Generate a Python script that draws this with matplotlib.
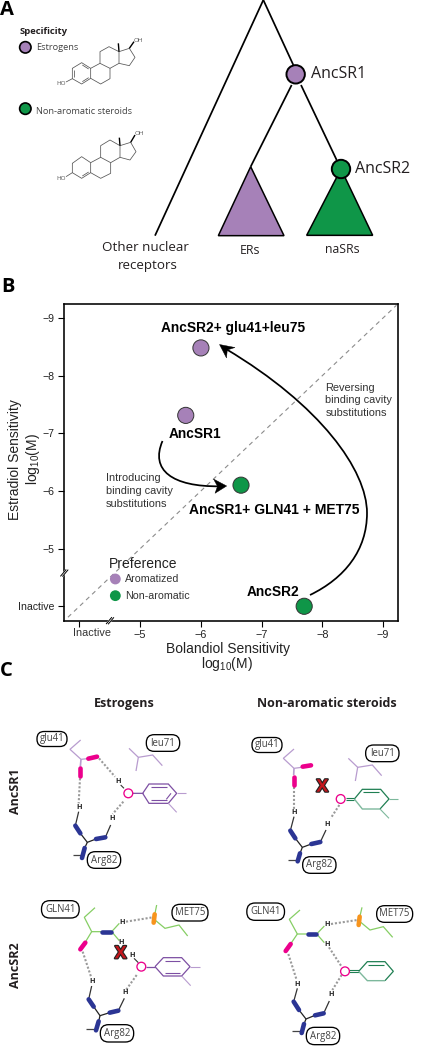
import matplotlib
matplotlib.use("Agg")
import matplotlib.pyplot as plt
import matplotlib.patheffects as pe
from matplotlib.patches import Circle, Polygon, FancyBboxPatch, PathPatch
from matplotlib.path import Path

W, H = 431, 1050
PURPLE = "#A681B8"
GREEN = "#0F9648"
MAG = "#EC008C"
BLUE = "#2B3594"
ORANGE = "#F7941D"
LPURP = "#B89CCF"
RPURP = "#7D4FA3"
LGREEN = "#86CE64"
DGREEN = "#1F7F52"
MGREEN = "#7DB89C"
DOT = "#9A9A9A"
MYR = "Open Sans"
HEL = "Liberation Sans"

plt.rcParams["mathtext.fontset"] = "custom"
plt.rcParams["mathtext.rm"] = HEL
plt.rcParams["mathtext.default"] = "regular"

# Panel B values
bolandiol = [-6.00, -5.75, -6.66, -7.70]
estradiol = [-8.48, -7.31, -6.10, -4.00]
mutant_colors = [PURPLE, PURPLE, GREEN, GREEN]
x_ticks = [-4, -5, -6, -7, -8, -9]
x_tick_labels = ["", "\u22125", "\u22126", "\u22127", "\u22128", "\u22129"]
y_ticks = [-4, -5, -6, -7, -8, -9]
y_tick_labels = ["Inactive", "\u22125", "\u22126", "\u22127", "\u22128", "\u22129"]
legend_names = ["Aromatized", "Non-aromatic"]
legend_colors = [PURPLE, GREEN]

fig = plt.figure(figsize=(W / 100, H / 100), dpi=100)
fig.patch.set_facecolor("white")

# ---------- Panel B axes ----------
L, R, T, B = 64.3, 398.3, 303.5, 620.7
ax = fig.add_axes([L / W, 1 - B / H, (R - L) / W, (B - T) / H], zorder=1)
ax.set_xlim(-3.75, -9.25)
ax.set_ylim(-3.75, -9.25)
ax.plot([-3.81, -9.22], [-3.81, -9.22], color="#8c8c8c", lw=0.8, ls=(0, (4, 3.5)), zorder=1)
ax.scatter(bolandiol, estradiol, s=135, c=mutant_colors, edgecolors="#333333", linewidths=0.7, zorder=3)
ax.set_xticks(x_ticks, x_tick_labels, family=HEL, fontsize=7.8, color="#222222")
ax.set_yticks(y_ticks, y_tick_labels, family=HEL, fontsize=7.6, color="#222222")
ax.tick_params(length=4.3, width=0.8, pad=2.5)
for s in ax.spines.values():
    s.set_linewidth(1.15)

# ---------- Overlay in pixel units ----------
ov = fig.add_axes([0, 0, 1, 1], zorder=2)
ov.set_xlim(0, W)
ov.set_ylim(H, 0)
ov.axis("off")
ov.patch.set_alpha(0)


def line(pts, ox, oy, color="k", lw=0.8, ls="-", cap="butt", z=3):
    xs = [ox + p[0] / 3 for p in pts]
    ys = [oy + p[1] / 3 for p in pts]
    ov.plot(xs, ys, color=color, lw=lw, ls=ls, solid_capstyle=cap, dash_capstyle="butt",
            solid_joinstyle="miter", zorder=z)


def txt(x, y, s, ox=0, oy=0, size=8, family=MYR, weight="normal", ha="center", color="#231F20", **kw):
    ov.text(ox + x / 3, oy + y / 3, s, fontsize=size, family=family, fontweight=weight,
            ha=ha, va="center", color=color, zorder=6, **kw)


def circle(x, y, r, ox, oy, fc, ec="k", lw=1.0, z=5):
    ov.add_patch(Circle((ox + x / 3, oy + y / 3), r, fc=fc, ec=ec, lw=lw, zorder=z))


# ---------- Panel A ----------
for pts in ([(790, 0), (465, 707)], [(790, 0), (880, 195)], [(875, 255), (752, 500)], [(903, 255), (1010, 480)]):
    line(pts, 0, 0, lw=1.25)
ov.add_patch(Polygon([(752 / 3, 500 / 3), (655 / 3, 707 / 3), (852 / 3, 707 / 3)], closed=True,
                     fc=PURPLE, ec="k", lw=1.1, zorder=3))
ov.add_patch(Polygon([(1023 / 3, 507 / 3), (920 / 3, 706 / 3), (1118 / 3, 706 / 3)], closed=True,
                     fc=GREEN, ec="k", lw=1.1, zorder=3))
circle(887, 223, 9.2, 0, 0, PURPLE, lw=1.4)
circle(1023, 507, 9.2, 0, 0, GREEN, lw=1.4)
txt(934, 222, "AncSR1", size=11.5, ha="left")
txt(1066, 507, "AncSR2", size=11.5, ha="left")
txt(437, 743, "Other nuclear", size=9.6)
txt(442, 796, "receptors", size=9.6)
txt(749, 751, "ERs", size=8.8)
txt(1028, 748, "naSRs", size=8.8)
txt(20, 30, "A", size=14.5, weight="bold", color="k")
txt(60, 94, "Specificity", size=6.8, weight="bold", ha="left")
txt(108, 143, "Estrogens", size=6.7, ha="left", color="#444444")
txt(108, 333, "Non-aromatic steroids", size=6.7, ha="left", color="#444444")
circle(76, 142, 5.7, 0, 0, PURPLE, lw=1.2)
circle(76, 326, 5.7, 0, 0, GREEN, lw=1.2)

MOL = "#555555"
ring_a1 = [(217, 205), (245, 188), (272, 205), (272, 235), (245, 252), (217, 236), (217, 205)]
ring_b1 = [(272, 205), (300, 190), (330, 205), (330, 236), (302, 252), (272, 235)]
ring_c1 = [(300, 190), (300, 155), (327, 140), (357, 155), (357, 190), (330, 205)]
ring_d1 = [(357, 155), (388, 145), (405, 172), (388, 197), (357, 190)]
for r in (ring_a1, ring_b1, ring_c1, ring_d1):
    line(r, 0, 0, color=MOL, lw=0.55)
line([(198, 246), (217, 236)], 0, 0, color=MOL, lw=0.55)
for pts in ([(247, 195), (266, 207)], [(247, 245), (266, 233)], [(223, 210), (223, 232)]):
    line(pts, 0, 0, color=MOL, lw=0.55)
line([(388, 145), (402, 125)], 0, 0, color="k", lw=1.0)
line([(357, 155), (355, 130)], 0, 0, color="k", lw=1.0)
txt(182, 251, "HO", size=4.6, color="#555555")
txt(415, 120, "OH", size=4.6, color="#555555")

ring_a2 = [(217, 490), (245, 470), (272, 488), (272, 518), (245, 535), (217, 518), (217, 490)]
ring_b2 = [(272, 488), (302, 472), (332, 488), (332, 520), (302, 535), (272, 518)]
ring_c2 = [(302, 472), (302, 437), (330, 420), (360, 437), (360, 472), (332, 488)]
ring_d2 = [(360, 437), (392, 427), (408, 455), (390, 480), (360, 472)]
for r in (ring_a2, ring_b2, ring_c2, ring_d2):
    line(r, 0, 0, color=MOL, lw=0.55)
line([(198, 530), (217, 518)], 0, 0, color=MOL, lw=0.55)
line([(247, 528), (266, 516)], 0, 0, color=MOL, lw=0.55)
line([(392, 427), (405, 405)], 0, 0, color="k", lw=1.0)
line([(360, 437), (358, 413)], 0, 0, color="k", lw=1.0)
txt(182, 537, "HO", size=4.6, color="#555555")
txt(418, 401, "OH", size=4.6, color="#555555")

# ---------- Panel B annotations ----------
oy = 280
txt(25, 22, "B", 0, oy, size=14.5, weight="bold", color="k")
txt(698, 145, "AncSR2+ glu41+leu75", 0, oy, size=9.9, family=HEL, weight="bold", color="k")
txt(586, 461, "AncSR1", 0, oy, size=9.9, family=HEL, weight="bold", color="k")
txt(822, 689, "AncSR1+ GLN41 + MET75", 0, oy, size=10, family=HEL, weight="bold", color="k")
txt(818, 937, "AncSR2", 0, oy, size=9.9, family=HEL, weight="bold", color="k")
for yy, s in zip((323, 361, 399), ("Reversing", "binding cavity", "substitutions")):
    txt(976, yy, s, 0, oy, size=7.9, family=HEL, ha="left", color="#333333")
for yy, s in zip((595, 633, 671), ("Introducing", "binding cavity", "substitutions")):
    txt(317, yy, s, 0, oy, size=7.9, family=HEL, ha="left", color="#333333")
txt(327, 851, "Preference", 0, oy, size=10, family=HEL, ha="left", color="#222222")
for yy, name, col in zip((897, 947), legend_names, legend_colors):
    circle(346, yy, 5.4, 0, oy, col, ec="none", lw=0)
    txt(374, yy + 1, name, 0, oy, size=7.7, family=HEL, ha="left", color="#333333")
txt(45, 540, "Estradiol Sensitivity", 0, oy, size=10, family=HEL, rotation=90, color="#222222")
txt(98, 537, r"log$_{10}$(M)", 0, oy, size=10, family=HEL, rotation=90, color="#222222")
txt(683, 1106, "Bolandiol Sensitivity", 0, oy, size=10, family=HEL, color="#222222")
txt(682, 1152, r"log$_{10}$(M)", 0, oy, size=10, family=HEL, color="#222222")
txt(275, 1059, "Inactive", 0, oy, size=7.8, family=HEL, color="#333333")

# axis breaks
for cx, cy in ((110, B), (L, 573)):
    ov.plot([cx - 3, cx + 3], [cy + 3.6, cy - 3.6], color="white", lw=2.2, zorder=4)
    ov.plot([cx - 3.6, cx + 1.6], [cy + 3, cy - 3.2], color="k", lw=0.7, zorder=5)
    ov.plot([cx - 1.6, cx + 3.6], [cy + 3.2, cy - 3], color="k", lw=0.7, zorder=5)

# curved arrows
p1 = Path([(162.5, 441), (150, 470), (172, 487), (220, 486.3)],
          [Path.MOVETO, Path.CURVE4, Path.CURVE4, Path.CURVE4])
ov.add_patch(PathPatch(p1, fc="none", ec="k", lw=1.25, zorder=5))
ov.add_patch(Polygon([(226.7, 486), (213.5, 479), (217.5, 486.3), (215, 493.3)], closed=True,
                     fc="k", ec="k", lw=0.3, zorder=5))
p2 = Path([(310, 595), (345, 578), (367, 550), (367, 513),
           (367, 470), (320, 405), (226, 349)],
          [Path.MOVETO, Path.CURVE4, Path.CURVE4, Path.CURVE4, Path.CURVE4, Path.CURVE4, Path.CURVE4])
ov.add_patch(PathPatch(p2, fc="none", ec="k", lw=1.25, zorder=5))
ov.add_patch(Polygon([(219.5, 344.5), (235, 347.5), (227.3, 350), (226.5, 358)], closed=True,
                     fc="k", ec="k", lw=0.3, zorder=5))


# ---------- Panel C ----------
def pill(x, y, w, h, label, ox, oy, size=6.9):
    x0 = ox + (x - w / 2) / 3
    y0 = oy + (y - h / 2) / 3
    ov.add_patch(FancyBboxPatch((x0, y0), w / 3, h / 3, boxstyle=f"round,pad=0,rounding_size={h / 6 * 0.95}",
                                fc="white", ec="k", lw=0.95, zorder=5))
    txt(x, y, label, ox, oy, size=size, color="#444444")


def thick(a, b, ox, oy, color):
    line([a, b], ox, oy, color=color, lw=3.3, cap="round", z=4)


def dots(a, b, ox, oy):
    line([a, b], ox, oy, color=DOT, lw=1.5, ls=(0, (1, 0.9)), z=2)


def hh(x, y, ox, oy):
    txt(x, y, "H", ox, oy, size=5.2, weight="bold", color="#222222")


def redx(x, y, ox, oy):
    ov.text(ox + x / 3, oy + y / 3, "X", fontsize=12.5, family=MYR, fontweight="bold", ha="center",
            va="center", color="#C4161C", zorder=7,
            path_effects=[pe.withStroke(linewidth=1.6, foreground="#222222")])


def ocircle(x, y, ox, oy):
    circle(x, y, 4.4, ox, oy, "white", ec=MAG, lw=0.95, z=5)


def arg(pts, ox, oy):
    """Arginine side chain: h1 top, thick1, node, thick2, h2, thick3, stub."""
    line([pts["h1"], pts["t1a"]], ox, oy, color="#333333", lw=0.9)
    line([pts["t1b"], pts["n"], pts["t2a"]], ox, oy, color="#222222", lw=0.9)
    line([pts["t2b"], pts["h2"]], ox, oy, color="#333333", lw=0.9)
    line([pts["n"], pts["t3a"]], ox, oy, color="#222222", lw=0.9)
    line(pts["stub"], ox, oy, color="#444444", lw=0.9)
    thick(pts["t1a"], pts["t1b"], ox, oy, BLUE)
    thick(pts["t2a"], pts["t2b"], ox, oy, BLUE)
    thick(pts["t3a"], pts["t3b"], ox, oy, BLUE)


# top-left
ox, oy = 0, 660
txt(20, 32, "C", ox, oy, size=14.5, weight="bold", color="k")
txt(373, 131, "Estrogens", ox, oy, size=9, weight="bold")
txt(320 + 660, 131, "Non-aromatic steroids", ox, oy, size=9, weight="bold")
txt(48, 395, "AncSR1", ox, oy, size=9, weight="bold", rotation=90)
line([(242, 240), (210, 268), (243, 298), (262, 296)], ox, oy, color=LPURP, lw=0.9)
line([(243, 298), (241, 320)], ox, oy, color=LPURP, lw=1.2)
thick((265, 296), (291, 290), ox, oy, MAG)
thick((241, 324), (241, 348), ox, oy, MAG)
dots((297, 295), (345, 350), ox, oy)
dots((240, 355), (236, 430), ox, oy)
dots((370, 425), (338, 462), ox, oy)
hh(354, 365, ox, oy); hh(236, 443, ox, oy); hh(335, 477, ox, oy)
line([(362, 375), (372, 385)], ox, oy, color="#333333", lw=0.8)
line([(398, 400), (428, 400), (447, 372), (505, 372), (530, 400), (505, 430), (447, 430), (428, 400)], ox, oy, color=RPURP, lw=0.9)
line([(452, 381), (500, 381)], ox, oy, color=RPURP, lw=0.8)
line([(452, 421), (500, 421)], ox, oy, color=RPURP, lw=0.8)
line([(513, 400), (499, 418)], ox, oy, color=RPURP, lw=0.8)
line([(530, 400), (558, 400)], ox, oy, color=LPURP, lw=0.8)
line([(505, 430), (530, 457)], ox, oy, color=LPURP, lw=0.8)
ocircle(385, 400, ox, oy)
line([(387, 265), (415, 292), (408, 333)], ox, oy, color=LPURP, lw=0.9)
line([(415, 292), (458, 285), (487, 317)], ox, oy, color=LPURP, lw=0.9)
arg(dict(h1=(236, 455), t1a=(226, 497), t1b=(241, 520), n=(262, 547), t2a=(288, 537), t2b=(316, 532),
         h2=(332, 495), t3a=(254, 564), t3b=(246, 594), stub=[(218, 585), (245, 585)]), ox, oy)
pill(156, 237, 90, 45, "glu41", ox, oy)
pill(489, 249, 100, 50, "leu71", ox, oy)

# top-right
ox, oy = 220, 660
line([(222, 267), (190, 295), (222, 325), (245, 322)], ox, oy, color=LPURP, lw=0.9)
line([(222, 325), (221, 345)], ox, oy, color=LPURP, lw=1.2)
thick((248, 320), (273, 316), ox, oy, MAG)
thick((221, 350), (221, 375), ox, oy, MAG)
dots((221, 380), (221, 448), ox, oy)
dots((358, 435), (332, 475), ox, oy)
hh(222, 459, ox, oy); hh(321, 492, ox, oy)
redx(307, 380, ox, oy)
line([(378, 413), (403, 413)], ox, oy, color=DGREEN, lw=0.8)
line([(378, 421), (403, 421)], ox, oy, color=DGREEN, lw=0.8)
line([(403, 417), (427, 388), (482, 388), (507, 417), (480, 447)], ox, oy, color=DGREEN, lw=0.9)
line([(403, 417), (427, 447), (480, 447)], ox, oy, color=MGREEN, lw=1.0)
line([(430, 397), (478, 397)], ox, oy, color=DGREEN, lw=0.8)
line([(507, 417), (535, 417)], ox, oy, color=MGREEN, lw=0.8)
line([(480, 447), (507, 475)], ox, oy, color=MGREEN, lw=0.8)
ocircle(362, 417, ox, oy)
line([(385, 295), (413, 322), (406, 363)], ox, oy, color=LPURP, lw=0.9)
line([(413, 322), (457, 315), (485, 347)], ox, oy, color=LPURP, lw=0.9)
arg(dict(h1=(222, 470), t1a=(211, 512), t1b=(226, 535), n=(247, 562), t2a=(274, 552), t2b=(301, 546),
         h2=(318, 510), t3a=(240, 580), t3b=(233, 604), stub=[(205, 600), (232, 600)]), ox, oy)
pill(141, 255, 90, 45, "glu41", ox, oy)
pill(487, 280, 100, 50, "leu71", ox, oy)
pill(298, 615, 100, 50, "Arg82", ox, oy)

# bottom-left
ox, oy = 0, 860
txt(48, 317, "AncSR2", ox, oy, size=9, weight="bold", rotation=90)
line([(285, 143), (253, 172), (275, 215), (303, 215)], ox, oy, color=LGREEN, lw=0.9)
line([(335, 215), (358, 190)], ox, oy, color=LGREEN, lw=0.9)
line([(335, 215), (358, 242)], ox, oy, color=LGREEN, lw=0.9)
line([(275, 215), (258, 243)], ox, oy, color=LGREEN, lw=0.9)
thick((306, 215), (332, 215), ox, oy, BLUE)
thick((256, 248), (241, 268), ox, oy, MAG)
dots((378, 185), (458, 172), ox, oy)
dots((248, 275), (273, 350), ox, oy)
dots((410, 345), (378, 390), ox, oy)
hh(367, 187, ox, oy); hh(364, 247, ox, oy); hh(395, 287, ox, oy); hh(276, 365, ox, oy); hh(376, 398, ox, oy)
redx(362, 280, ox, oy)
line([(402, 295), (415, 308)], ox, oy, color="#333333", lw=0.8)
line([(438, 320), (465, 320)], ox, oy, color=RPURP, lw=0.9)
line([(465, 320), (490, 293), (545, 293), (570, 320), (545, 348), (490, 348), (465, 320)], ox, oy, color=RPURP, lw=0.9)
line([(495, 302), (540, 302)], ox, oy, color=RPURP, lw=0.8)
line([(495, 340), (540, 340)], ox, oy, color=RPURP, lw=0.8)
line([(570, 320), (600, 320)], ox, oy, color=LPURP, lw=0.8)
line([(545, 348), (572, 377)], ox, oy, color=LPURP, lw=0.8)
ocircle(424, 320, ox, oy)
line([(470, 135), (465, 160)], ox, oy, color=LGREEN, lw=0.9)
line([(465, 180), (495, 205), (537, 195), (563, 228)], ox, oy, color=LGREEN, lw=0.9)
thick((464, 163), (461, 188), ox, oy, ORANGE)
arg(dict(h1=(275, 378), t1a=(266, 418), t1b=(281, 440), n=(300, 467), t2a=(329, 458), t2b=(355, 452),
         h2=(373, 415), t3a=(296, 484), t3b=(288, 511), stub=[(258, 506), (288, 506)]), ox, oy)
pill(181, 148, 113, 52, "GLN41", ox, oy)
pill(570, 158, 108, 50, "MET75", ox, oy)
pill(351, 520, 100, 52, "Arg82", ox, oy)
pill(312, 0, 100, 50, "Arg82", ox, oy)

# bottom-right
ox, oy = 220, 860
line([(240, 150), (208, 178), (232, 222), (260, 222)], ox, oy, color=LGREEN, lw=0.9)
line([(290, 222), (313, 198)], ox, oy, color=LGREEN, lw=0.9)
line([(290, 222), (313, 248)], ox, oy, color=LGREEN, lw=0.9)
line([(232, 222), (213, 250)], ox, oy, color=LGREEN, lw=0.9)
thick((263, 222), (288, 222), ox, oy, BLUE)
thick((212, 252), (197, 273), ox, oy, MAG)
dots((333, 192), (412, 180), ox, oy)
dots((205, 282), (230, 360), ox, oy)
dots((327, 262), (365, 320), ox, oy)
dots((365, 345), (337, 390), ox, oy)
hh(322, 195, ox, oy); hh(320, 253, ox, oy); hh(232, 372, ox, oy); hh(332, 405, ox, oy)
line([(388, 330), (416, 330)], ox, oy, color=DGREEN, lw=0.8)
line([(388, 337), (416, 337)], ox, oy, color=DGREEN, lw=0.8)
line([(416, 334), (442, 305), (495, 305), (520, 334), (495, 362)], ox, oy, color=DGREEN, lw=0.9)
line([(416, 334), (442, 362), (495, 362)], ox, oy, color=MGREEN, lw=1.0)
line([(445, 314), (493, 314)], ox, oy, color=DGREEN, lw=0.8)
ocircle(375, 334, ox, oy)
line([(426, 142), (420, 168)], ox, oy, color=LGREEN, lw=0.9)
line([(420, 185), (450, 210), (490, 200), (518, 232)], ox, oy, color=LGREEN, lw=0.9)
thick((419, 170), (416, 195), ox, oy, ORANGE)
arg(dict(h1=(232, 385), t1a=(221, 425), t1b=(237, 450), n=(258, 477), t2a=(285, 466), t2b=(311, 460),
         h2=(328, 423), t3a=(252, 492), t3b=(245, 519), stub=[(215, 514), (245, 514)]), ox, oy)
pill(137, 155, 113, 52, "GLN41", ox, oy)
pill(524, 162, 108, 50, "MET75", ox, oy)
pill(309, 528, 100, 52, "Arg82", ox, oy)

fig.savefig("out.png", dpi=100)
